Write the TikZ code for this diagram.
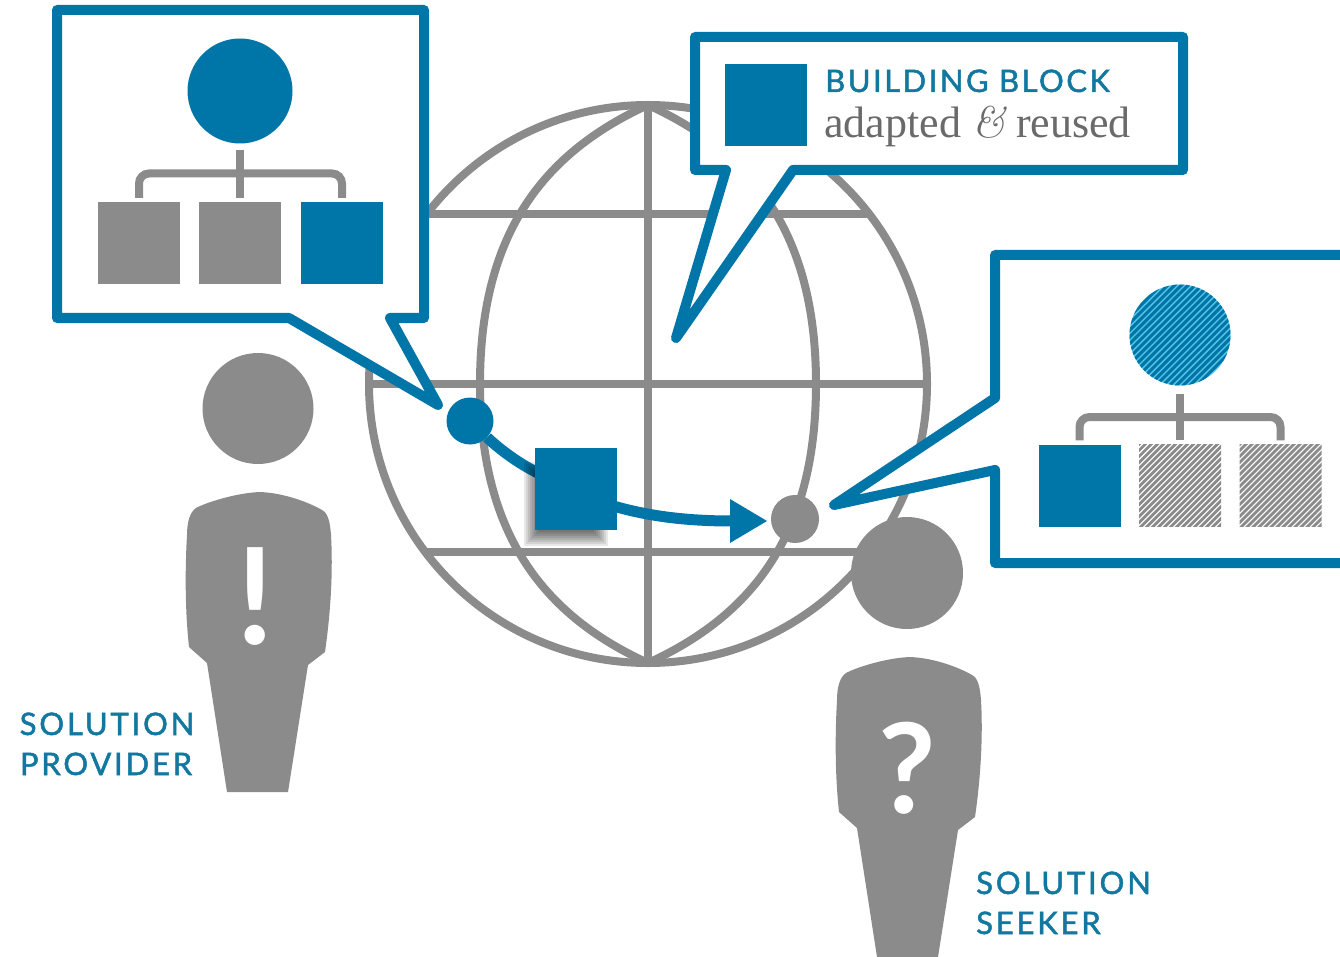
\documentclass[tikz,border=0pt]{standalone}
\usepackage{fontspec}
\setmainfont{Liberation Serif}
\newfontfamily\labelfont[LetterSpace=9,FakeBold=1.6]{Lato}
\newfontfamily\headfont[LetterSpace=8,FakeBold=1.6]{Lato}
\newfontfamily\markfont{Lato}
\newfontfamily\ampfont{Latin Modern Roman}
\definecolor{blk}{HTML}{0076A8}
\definecolor{txtblue}{HTML}{12789F}
\definecolor{gry}{HTML}{8B8B8B}
\definecolor{txtgray}{HTML}{6A6A6A}
\definecolor{lightstripe}{HTML}{55C4E6}
\tikzset{
  globeline/.style={draw=gry,line width=8pt},
  callout/.style={draw=blk,fill=white,line width=10pt,line join=round},
  treeline/.style={draw=gry,line width=8pt},
  bluesq/.style={rectangle,fill=blk,minimum size=82pt,inner sep=0pt},
  graysq/.style={rectangle,fill=gry,minimum size=82pt,inner sep=0pt},
  disc/.style={circle,inner sep=0pt},
  hatchgray/.style={rectangle,minimum size=82pt,inner sep=0pt,fill=white,
    path picture={\foreach \k in {-130,-124,...,130}{
      \draw[gry,line width=2.8pt] ([xshift=\k pt]path picture bounding box.center) ++(-120pt,-120pt) -- ++(240pt,240pt);}}},
  hatchblue/.style={circle,minimum size=101pt,inner sep=0pt,fill=lightstripe,
    path picture={\foreach \k in {-130,-123.2,...,130}{
      \draw[blk,line width=3.1pt] ([xshift=\k pt]path picture bounding box.center) ++(-120pt,-120pt) -- ++(240pt,240pt);}}},
  labeltext/.style={font=\labelfont\fontsize{31}{40}\selectfont,text=txtblue,inner sep=0pt},
  person/.pic={
    \fill[gry] (260,492) .. controls (235,493) and (205,503) .. (196,508)
      .. controls (190,512) and (187,522) .. (187,535)
      .. controls (185,570) and (185,610) .. (189,647)
      -- (207,663) -- (227,792) -- (288,792) -- (308,665) -- (325,652)
      .. controls (331,610) and (333,570) .. (331,535)
      .. controls (330,522) and (328,513) .. (322,510)
      .. controls (310,503) and (285,493) .. (260,492) -- cycle;
  }
}
\begin{document}
\begin{tikzpicture}[x=1pt,y=-1pt]
\useasboundingbox (0,0) rectangle (1340,957);
\fill[white] (0,0) rectangle (1340,957);
% globe
\coordinate (gc) at (648,384);
\draw[globeline] (gc) ellipse [x radius=279,y radius=279];
\draw[globeline] (648,105) -- (648,663);
\draw[globeline] (369,384) -- (927,384);
\draw[globeline] (427,214) -- (869,214);
\draw[globeline] (427,552) -- (869,552);
\draw[globeline,line join=round] (648,105) .. controls (543,153) and (480,234) .. (480,384)
   .. controls (480,534) and (543,615) .. (648,663)
   .. controls (753,615) and (816,534) .. (816,384)
   .. controls (816,234) and (753,153) .. (648,105);
% callout 1
\coordinate (tip1) at (438,405);
\draw[callout] (57,10) -- (424,10) -- (424,318) -- (390,318) -- (tip1) -- (289,318) -- (57,318) -- cycle;
\node[disc,fill=blk,minimum size=105pt] (root1) at (240,91) {};
\node[graysq] (a1) at (139,243) {};
\node[graysq] (a2) at (240,243) {};
\node[bluesq] (a3) at (342,243) {};
\coordinate (bus1) at (240,173.5);
\draw[treeline,shorten <=6pt,shorten >=4pt] (root1.south) -- (a2.north);
\draw[treeline,rounded corners=10pt,shorten <=4pt,shorten >=4pt] (a1.north) |- (bus1) -| (a3.north);
% callout 2
\coordinate (tip2) at (676,338);
\draw[callout] (695,37) -- (1183,37) -- (1183,170) -- (793,170) -- (tip2) -- (726,170) -- (695,170) -- cycle;
\node[bluesq] (legend) at (766,105) {};
\node[anchor=base west,inner sep=0pt,font=\headfont\fontsize{31}{36}\selectfont,text=txtblue] (bbt) at (825,92) {BUILDING BLOCK};
\node[anchor=base west,inner sep=0pt,font=\fontsize{44}{48}\selectfont,text=txtgray] (bbs) at (824,138) {adapted {\ampfont\itshape\&} reused};
% callout 3
\coordinate (tip3) at (834,505);
\draw[callout] (1350,255) -- (995,255) -- (995,398) -- (tip3) -- (995,470) -- (995,563) -- (1350,563);
\node[hatchblue] (root3) at (1180,335) {};
\node[bluesq] (c1) at (1079.5,485.5) {};
\node[hatchgray] (c2) at (1180,485.5) {};
\node[hatchgray] (c3) at (1280.5,485.5) {};
\coordinate (bus3) at (1180,417);
\draw[treeline,shorten <=8pt,shorten >=4pt] (root3.south) -- (c2.north);
\draw[treeline,rounded corners=10pt,shorten <=4pt,shorten >=4pt] (c1.north) |- (bus3) -| (c3.north);
% route
\node[disc,fill=blk,minimum size=47pt] (src) at (470,421) {};
\node[disc,fill=gry,minimum size=48pt] (dst) at (795,519) {};
\coordinate (blockin) at (540,474);
\coordinate (blockout) at (610,505);
\coordinate (headbase) at (732,521);
\draw[blk,line width=11pt] (src) .. controls (495,445) and (515,462) .. (blockin);
\draw[blk,line width=11pt] (blockout) .. controls (650,517) and (690,521) .. (headbase);
\fill[blk] (730,499) -- (767,521) -- (730,543) -- cycle;
\foreach \g in {8,6,4,2,0,-2,-4,-6}{
  \fill[black,opacity=0.09] (532-\g,470-\g) rectangle (600+\g,538+\g);
}
\node[bluesq] (block) at (576,489) {};
% provider
\node[disc,fill=gry,minimum size=111pt] (phead) at (258,408.5) {};
\pic {person};
\node[font=\markfont\bfseries\fontsize{134}{134}\selectfont,text=white,inner sep=0pt,anchor=base] (pmark) at (255,644) {!};
\node[labeltext,anchor=base] (p1) at (107,735) {SOLUTION};
\node[labeltext,anchor=base] (p2) at (106,775) {PROVIDER};
% seeker
\node[disc,fill=gry,minimum size=112pt] (shead) at (907,573) {};
\begin{scope}[shift={(650pt,-165pt)}]
\pic {person};
\end{scope}
\node[font=\markfont\bfseries\fontsize{125}{125}\selectfont,text=white,inner sep=0pt,anchor=base] (smark) at (907,813) {?};
\node[labeltext,anchor=base west] (s1) at (976,894) {SOLUTION};
\node[labeltext,anchor=base west] (s2) at (976,934) {SEEKER};
\end{tikzpicture}
\end{document}
